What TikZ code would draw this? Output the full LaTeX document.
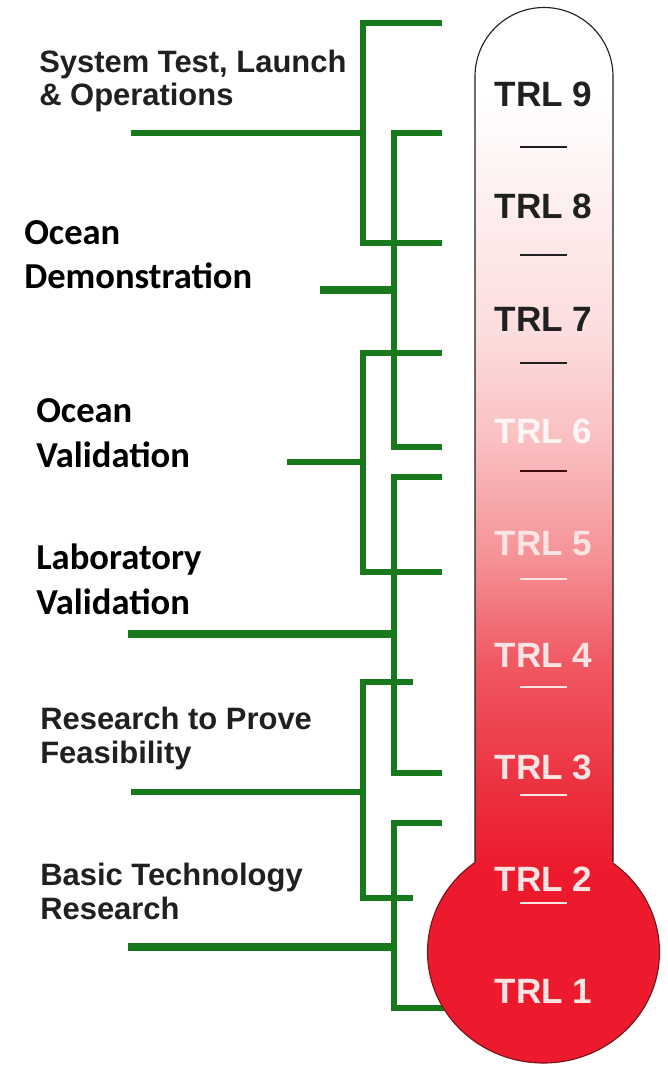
\documentclass[tikz,border=0pt]{standalone}
\usepackage{fontspec}
\newfontfamily\armfont{Liberation Sans}
\newfontfamily\calfont{Carlito}
\usepackage{xcolor}
\definecolor{Leaf}{RGB}{24,120,28}
\definecolor{Ink}{RGB}{32,32,32}
\definecolor{Bulb}{RGB}{236,26,44}
\definecolor{BulbEdge}{RGB}{120,20,24}
\definecolor{Pale}{RGB}{250,228,228}
\definecolor{TubeA}{RGB}{236,50,64}
\definecolor{TubeB}{RGB}{240,88,98}
\definecolor{TubeC}{RGB}{245,145,150}
\definecolor{TubeD}{RGB}{250,192,194}
\definecolor{TubeE}{RGB}{252,220,220}
\definecolor{TubeF}{RGB}{254,237,237}
\pgfdeclareverticalshading{tubegrad}{100bp}{color(0bp)=(Bulb); color(25bp)=(Bulb);
  color(30bp)=(TubeA); color(37bp)=(TubeB); color(43bp)=(TubeC); color(50bp)=(TubeD);
  color(56bp)=(TubeE); color(63bp)=(TubeF); color(70bp)=(white); color(100bp)=(white)}
\tikzset{
  bar/.style={draw=Leaf,line width=3.6pt,line join=miter},
  heavybar/.style={bar,line width=5.7pt},
  trl/.style={anchor=base,inner sep=0pt,font=\armfont\bfseries\fontsize{25}{30}\selectfont},
  tick/.style={line width=2pt},
  grouplbl/.style={anchor=base west,align=left,inner sep=0pt,text=Ink,
                   font=\armfont\bfseries\fontsize{22}{23.5}\selectfont},
  sealbl/.style={anchor=base west,align=left,inner sep=0pt,text=black,
                 font=\calfont\bfseries\fontsize{26}{31.3}\selectfont},
}

\begin{document}
\begin{tikzpicture}[x=0.025cm,y=-0.025cm]
  \useasboundingbox (0,0) rectangle (667,1069);
  % brackets
  \draw[bar] (442,23) -- (363,23) -- (363,243) -- (442,243);
  \draw[bar] (131,133) -- (363,133);
  \draw[bar] (442,133) -- (394,133) -- (394,447) -- (442,447);
  \draw[heavybar] (320,290) -- (394,290);
  \draw[bar] (442,353) -- (363,353) -- (363,572) -- (442,572);
  \draw[bar] (287,462) -- (363,462);
  \draw[bar] (442,477) -- (394,477) -- (394,773) -- (442,773);
  \draw[heavybar] (128,634) -- (394,634);
  \draw[bar] (413,682) -- (363,682) -- (363,898) -- (413,898);
  \draw[bar] (131,792) -- (363,792);
  \draw[bar] (442,823) -- (394,823) -- (394,1008) -- (450,1008);
  \draw[heavybar] (128,947) -- (394,947);
  % thermometer
  \filldraw[fill=Bulb,draw=BulbEdge,line width=0.8pt] (543.5,952) ellipse (116 and 111);
  \shade[shading=tubegrad] (475,870) -- (475,76.5) arc (180:360:69) -- (613,870) -- cycle;
  \draw[Ink,line width=0.8pt] (475,862) -- (475,76.5) arc (180:360:69) -- (613,862);
  \foreach \n/\yb/\c in {9/107/Ink,8/219/Ink,7/331/Ink,6/443/Pale!35!white,
                         5/555/Pale,4/667/Pale,3/779/Pale,2/891/Pale,1/1003/Pale}
    \node[trl,text=\c] (trl\n) at (543.5,\yb) {TRL \n};
  \foreach \yd/\c in {147/Ink,255/Ink,363/Ink,471/BulbEdge!50!black,
                      579/Pale,687/Pale,795/Pale,903/Pale}
    \draw[tick,\c] (520,\yd) -- (567,\yd);
  % labels
  \node[grouplbl] (sys) at (39,106) {System Test, Launch\\\& Operations};
  \node[sealbl] (demo) at (24,289) {Ocean\\Demonstration};
  \node[sealbl] (oval) at (36,467) {Ocean\\Validation};
  \node[sealbl] (lval) at (36,614) {Laboratory\\Validation};
  \node[grouplbl] (feas) at (40,763) {Research to Prove\\Feasibility};
  \node[grouplbl] (basic) at (40,919) {Basic Technology\\Research};
\end{tikzpicture}
\end{document}
